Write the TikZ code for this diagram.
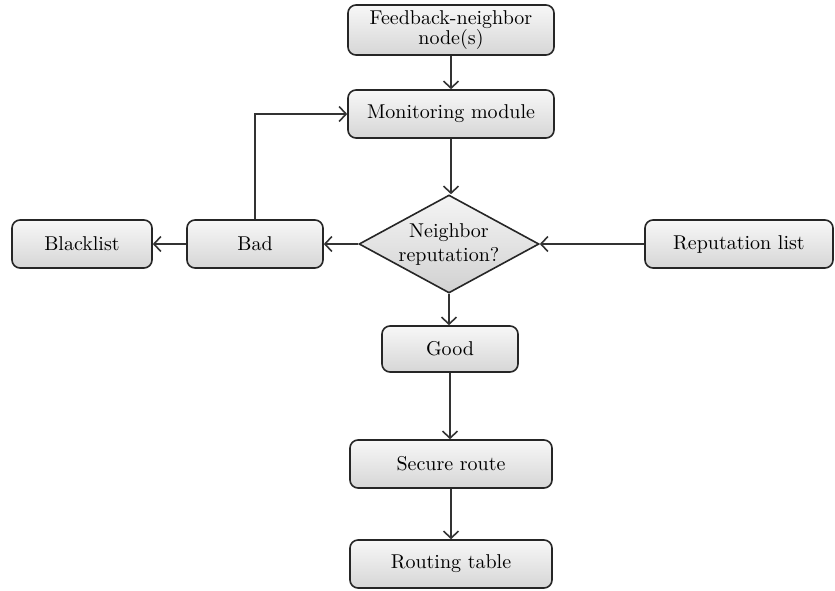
\documentclass[tikz,border=0pt]{standalone}
\usepackage{pgf,tikz}
\usetikzlibrary{arrows.meta,shapes.geometric}
\tikzstyle{caja} = [draw=black!85, thick, rectangle, rounded corners=4pt, top color=gray!6, bottom color=gray!32, minimum height=24pt, align=center, inner sep=2pt]
\tikzstyle{decision} = [draw=black!85, thick, diamond, aspect=1.84, top color=gray!8, bottom color=gray!36, minimum width=90pt, minimum height=49pt, align=center, inner sep=0pt]
\tikzstyle{flecha} = [draw=black!80, thick, -{Straight Barb[length=3.5pt,width=7.5pt]}]

\begin{document}
\begin{tikzpicture}[x=0.5pt,y=-0.5pt]
	\useasboundingbox (0,0) rectangle (835,590);
	\node[caja, minimum width=103pt, minimum height=25pt, text width=96pt, inner sep=1pt](feedback) at (451,30) {Feedback-neighbor\\[-2pt]node(s)};
	\node[caja, minimum width=103pt](monitor) at (451,114) {Monitoring module};
	\node[decision](rep) at (449,244) {Neighbor\\reputation?};
	\node[caja, minimum width=68pt](bad) at (255,244) {Bad};
	\node[caja, minimum width=70pt](black) at (82,244) {Blacklist};
	\node[caja, minimum width=94pt](replist) at (739,244) {Reputation list};
	\node[caja, minimum width=68pt, minimum height=23pt](good) at (450,349) {Good};
	\node[caja, minimum width=101pt](secure) at (451,464) {Secure route};
	\node[caja, minimum width=101pt](table) at (451,564) {Routing table};
	\coordinate (esquina) at (bad.north |- monitor.west);

	\draw[flecha] (feedback) -- (monitor);
	\draw[flecha] (monitor.south) -- (monitor.south |- rep.north);
	\draw[flecha] (rep.west) -- (bad.east);
	\draw[flecha] (bad.west) -- (black.east);
	\draw[flecha] (replist.west) -- (rep.east);
	\draw[flecha] (rep.south) -- (rep.south |- good.north);
	\draw[flecha] (good) -- (good |- secure.north);
	\draw[flecha] (secure) -- (table);
	\draw[flecha] (bad.north) -- (esquina) -- (monitor.west);
\end{tikzpicture}
\end{document}
